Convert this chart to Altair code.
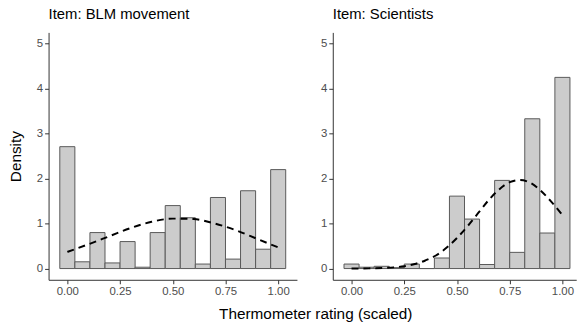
import altair as alt
import pandas as pd

# Histogram densities (15 bins of width 1/14 centred on 0, 1/14, ..., 1)
BIN_WIDTH = 1 / 14
blm_density = [2.71, 0.15, 0.80, 0.125, 0.60, 0.03, 0.80, 1.40, 1.13, 0.10,
               1.58, 0.21, 1.73, 0.43, 2.20]
sci_density = [0.10, 0.03, 0.05, 0.02, 0.10, 0.0, 0.235, 1.61, 1.10, 0.09,
               1.96, 0.36, 3.33, 0.79, 4.25]

# Dashed density curves
blm_curve_x = [0.0, 0.1, 0.2, 0.3, 0.4, 0.5, 0.6, 0.7, 0.8, 0.9, 1.0]
blm_curve_y = [0.37, 0.54, 0.72, 0.90, 1.04, 1.11, 1.10, 1.00, 0.85, 0.66, 0.47]

sci_curve_x = [0.0, 0.05, 0.1, 0.15, 0.2, 0.25, 0.3, 0.35, 0.4, 0.45, 0.5,
               0.55, 0.6, 0.65, 0.7, 0.75, 0.8, 0.85, 0.9, 0.95, 1.0]
sci_curve_y = [0.001, 0.002, 0.006, 0.012, 0.026, 0.053, 0.10, 0.18, 0.29, 0.46, 0.68,
               0.94, 1.23, 1.52, 1.76, 1.92, 1.97, 1.90, 1.72, 1.47, 1.19]

x_ticks = [0, 0.25, 0.5, 0.75, 1.0]
y_ticks = [0, 1, 2, 3, 4, 5]

FONT = "Liberation Sans"


def hist_df(dens):
    return pd.DataFrame({
        "x0": [i * BIN_WIDTH - BIN_WIDTH / 2 for i in range(len(dens))],
        "x1": [i * BIN_WIDTH + BIN_WIDTH / 2 for i in range(len(dens))],
        "d": dens,
        "zero": [0.0] * len(dens),
    })


def panel(title, dens, cx, cy, width, xdomain, left):
    xaxis = alt.Axis(
        values=x_ticks, format=".2f", grid=False,
        domainColor="#333333", tickColor="#333333", tickSize=4,
        labelColor="#4d4d4d", labelFontSize=11.5, labelPadding=2, labelFont=FONT,
        title="Thermometer rating (scaled)" if left else None,
        titleFont=FONT, titleFontSize=15.5, titleFontWeight="normal", titleColor="black",
        titleX=269.5, titleY=39.5, titleAlign="center", titleBaseline="alphabetic",
    )
    yaxis = alt.Axis(
        values=y_ticks, grid=False,
        domainColor="#333333", tickColor="#333333", tickSize=4,
        labelColor="#4d4d4d", labelFontSize=11.5, labelPadding=2, labelFont=FONT,
        title="Density" if left else None,
        titleFont=FONT, titleFontSize=15.5, titleFontWeight="normal", titleColor="black",
        titlePadding=12.7,
    )
    xs = alt.Scale(domain=xdomain, nice=False, zero=False)
    ys = alt.Scale(domain=[-0.25, 5.25], nice=False, zero=False)
    bars = alt.Chart(hist_df(dens)).mark_rect(
        fill="#cccccc", stroke="#595959", strokeWidth=1, clip=True
    ).encode(
        x=alt.X("x0:Q", scale=xs, axis=xaxis),
        x2="x1:Q",
        y=alt.Y("d:Q", scale=ys, axis=yaxis),
        y2="zero:Q",
    )
    line = alt.Chart(pd.DataFrame({"x": cx, "y": cy})).mark_line(
        color="black", strokeDash=[7, 5], strokeWidth=2, interpolate="monotone", clip=True
    ).encode(
        x=alt.X("x:Q", scale=xs, axis=xaxis),
        y=alt.Y("y:Q", scale=ys, axis=yaxis),
    )
    return alt.layer(bars, line).properties(
        width=width, height=250,
        title=alt.TitleParams(title, anchor="start", frame="group", fontSize=15,
                              fontWeight="normal", color="black", font=FONT,
                              baseline="alphabetic", offset=-1),
    )


left = panel("Item: BLM movement", blm_density, blm_curve_x, blm_curve_y,
             251, [-0.089, 1.089], True)
right = panel("Item: Scientists", sci_density, sci_curve_x, sci_curve_y,
              246, [-0.089, 1.0654], False)

chart = alt.hconcat(left, right, spacing=36.2, bounds="flush").configure_view(
    stroke=None
).properties(padding={"left": 0, "top": -3, "right": 0, "bottom": 0})

chart.save("out.html", embed_options={"renderer": "svg", "actions": False})
